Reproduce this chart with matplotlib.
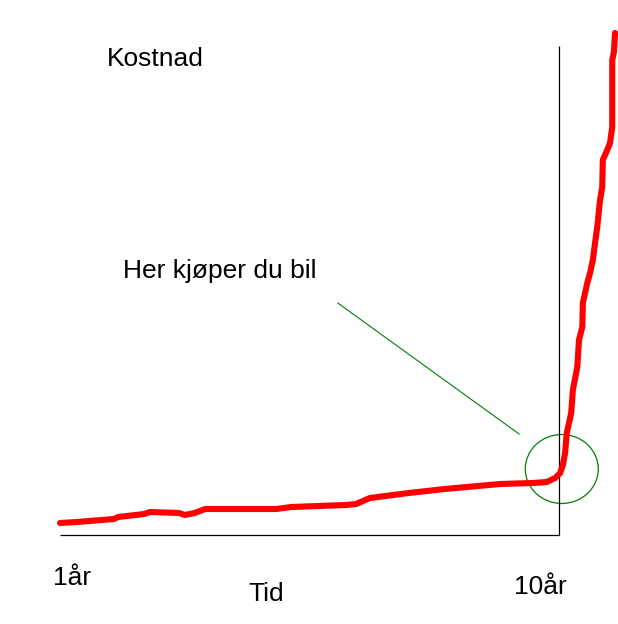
import matplotlib
matplotlib.use("Agg")
import matplotlib.pyplot as plt
from matplotlib.patches import Ellipse

# Red cost curve: time (years) vs cost (arbitrary units)
time_years = [1.00, 1.31, 1.97, 2.05, 2.52, 2.62, 3.15, 3.25, 3.43, 3.62, 4.90, 5.17,
              6.16, 6.34, 6.59, 7.29, 7.94, 8.94, 9.53, 9.78, 9.93, 10.02, 10.07,
              10.11, 10.14, 10.22, 10.25, 10.33, 10.36, 10.42, 10.43, 10.51, 10.56,
              10.61, 10.65, 10.69, 10.74, 10.78, 10.79, 10.87, 10.92, 10.96, 10.96,
              10.99, 11.01]
cost = [12, 13, 16, 18, 21, 23, 22, 20, 22, 26, 26, 28,
        30, 31, 37, 42, 46, 51, 52, 53, 57, 62, 70,
        82, 102, 122, 145, 168, 195, 208, 232, 252, 262,
        275, 292, 308, 335, 348, 375, 385, 392, 408, 475,
        483, 502]

# Axes frame drawn by hand
x_axis_years = [1.0, 10.0]
y_axis_top = 489

# Annotation: circle around purchase point and pointer line
circle_center = (10.05, 66)
circle_size = (1.317, 69)
pointer_years = [6.01, 9.28]
pointer_cost = [232, 101]

labels = {
    "ylabel": "Kostnad",
    "note": "Her kjøper du bil",
    "start": "1år",
    "xlabel": "Tid",
    "end": "10år",
}

fig = plt.figure(figsize=(6.18, 6.24), dpi=100)
ax = fig.add_axes([0, 0, 1, 1])
ax.set_xlim(-0.0822, 11.064)
ax.set_ylim(-89, 535)
ax.axis("off")

# axes lines
ax.plot(x_axis_years, [0, 0], color="black", lw=0.9, solid_capstyle="butt")
ax.plot([x_axis_years[1], x_axis_years[1]], [0, y_axis_top], color="black", lw=0.9,
        solid_capstyle="butt")

# red curve
ax.plot(time_years, cost, color="#ff0000", lw=4.4, solid_capstyle="round",
        solid_joinstyle="round")

# green annotation
ax.plot(pointer_years, pointer_cost, color="#008000", lw=0.8)
ax.add_patch(Ellipse(circle_center, circle_size[0], circle_size[1], fill=False,
                     edgecolor="#008000", lw=0.9))

font = dict(family=["Liberation Sans", "DejaVu Sans"], size=19, color="black",
            ha="left", va="baseline")
ax.text(1.848, 469, labels["ylabel"], **font)
ax.text(2.136, 257, labels["note"], **font)
ax.text(0.874, -50, labels["start"], **font)
ax.text(4.39, -66, labels["xlabel"], **font)
ax.text(9.19, -59, labels["end"], **font)

fig.savefig("out.png", dpi=100, facecolor="white")
